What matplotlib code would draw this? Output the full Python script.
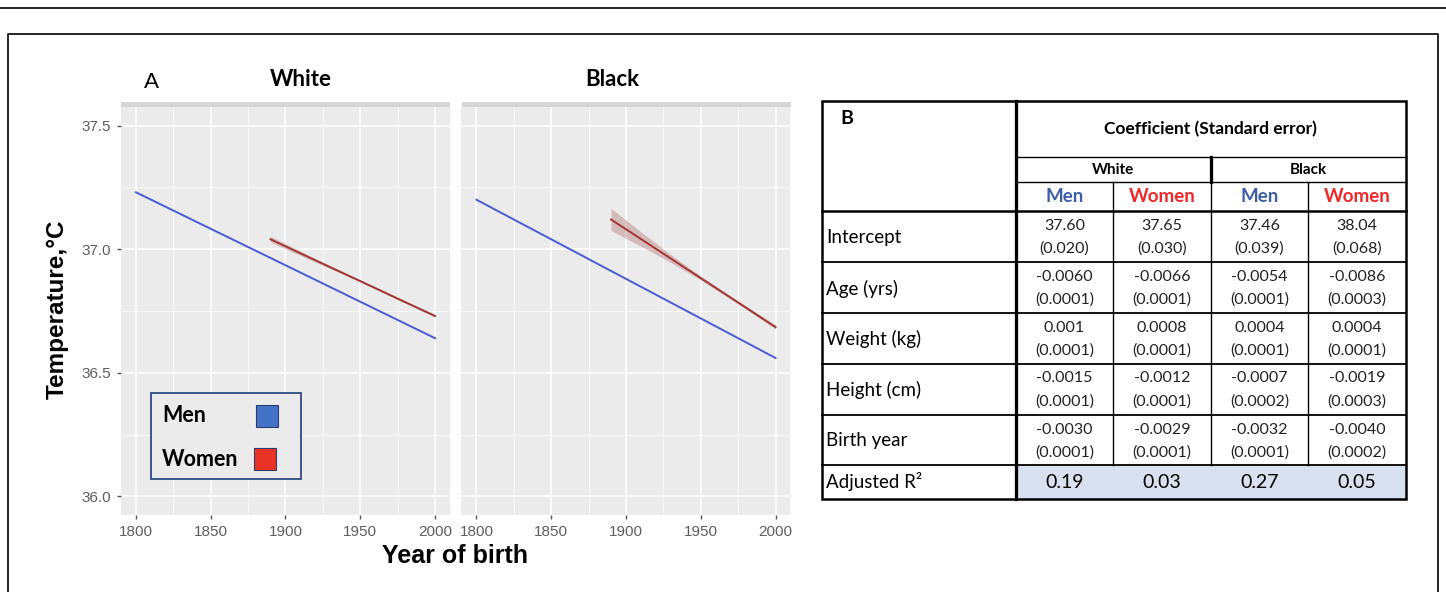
import matplotlib
matplotlib.use("Agg")
import matplotlib.pyplot as plt
from matplotlib.patches import Rectangle
from matplotlib.lines import Line2D
from matplotlib.ticker import MultipleLocator, FormatStrFormatter

W, H = 1446, 592

# ---- panel A data (fitted lines) ----
panels = ["White", "Black"]
men_years = {"White": [1800, 2000], "Black": [1800, 2000]}
men_temp = {"White": [37.23, 36.64], "Black": [37.20, 36.56]}
women_years = {"White": [1890, 1920, 1950, 1980, 2000],
               "Black": [1890, 1910, 1930, 1950, 1970, 2000]}
women_temp = {"White": [37.04, 36.955, 36.871, 36.786, 36.73],
              "Black": [37.12, 37.041, 36.962, 36.883, 36.804, 36.685]}
women_halfwidth = {"White": [0.012, 0.007, 0.004, 0.004, 0.005],
                   "Black": [0.045, 0.029, 0.016, 0.008, 0.006, 0.008]}

# ---- panel B table ----
row_labels = ["Intercept", "Age (yrs)", "Weight (kg)", "Height (cm)", "Birth year"]
coef = [["37.60", "37.65", "37.46", "38.04"],
        ["-0.0060", "-0.0066", "-0.0054", "-0.0086"],
        ["0.001", "0.0008", "0.0004", "0.0004"],
        ["-0.0015", "-0.0012", "-0.0007", "-0.0019"],
        ["-0.0030", "-0.0029", "-0.0032", "-0.0040"]]
stderr = [["(0.020)", "(0.030)", "(0.039)", "(0.068)"],
          ["(0.0001)", "(0.0001)", "(0.0001)", "(0.0003)"],
          ["(0.0001)", "(0.0001)", "(0.0001)", "(0.0001)"],
          ["(0.0001)", "(0.0001)", "(0.0002)", "(0.0003)"],
          ["(0.0001)", "(0.0001)", "(0.0001)", "(0.0002)"]]
adj_r2 = ["0.19", "0.03", "0.27", "0.05"]
sex_labels = ["Men", "Women", "Men", "Women"]

men_col = "#4b5bd4"
women_col = "#a33535"
men_key = "#4472c4"
women_key = "#ea3327"
men_txt = "#3e5ea8"
women_txt = "#f0282a"

calibri = ["Lato", "DejaVu Sans"]
arial = ["Liberation Sans", "DejaVu Sans"]

fig = plt.figure(figsize=(W / 100, H / 100), dpi=100)

# overlay canvas in pixel units for frame, titles, legend and table
cv = fig.add_axes([0, 0, 1, 1])
cv.set_xlim(0, W)
cv.set_ylim(H, 0)
cv.axis("off")
cv.set_zorder(10)


def px_axes(x0, y0, x1, y1):
    return fig.add_axes([x0 / W, 1 - y1 / H, (x1 - x0) / W, (y1 - y0) / H])


# frame
cv.add_line(Line2D([0, W], [8, 8], color="black", lw=1.2))
cv.add_line(Line2D([8, 8, 1438, 1438], [H + 5, 34, 34, H + 5], color="black", lw=1.2))

panel_x = {"White": (121, 450), "Black": (461.5, 790.5)}
title_shift = {"White": 15, "Black": -14}
py0, py1 = 107, 515

for name in panels:
    x0, x1 = panel_x[name]
    ax = px_axes(x0, py0, x1, py1)
    ax.set_facecolor("#ebebeb")
    for s in ax.spines.values():
        s.set_visible(False)
    ax.set_xlim(1790, 2010)
    ax.set_ylim(35.925, 37.575)
    ax.xaxis.set_major_locator(MultipleLocator(50))
    ax.xaxis.set_minor_locator(MultipleLocator(25))
    ax.yaxis.set_major_locator(MultipleLocator(0.5))
    ax.yaxis.set_minor_locator(MultipleLocator(0.25))
    ax.yaxis.set_major_formatter(FormatStrFormatter("%.1f"))
    ax.grid(which="major", color="white", lw=1.1)
    ax.grid(which="minor", color="white", lw=0.5)
    ax.set_axisbelow(True)
    ax.tick_params(which="major", length=3, width=1, color="#555555",
                   labelsize=11, labelcolor="#5e5e5e", pad=4)
    ax.tick_params(which="minor", length=0)
    for lab in ax.get_xticklabels() + ax.get_yticklabels():
        lab.set_fontfamily(arial)
    if name == "Black":
        ax.tick_params(axis="y", which="both", left=False, labelleft=False)

    lo = [t - h for t, h in zip(women_temp[name], women_halfwidth[name])]
    hi = [t + h for t, h in zip(women_temp[name], women_halfwidth[name])]
    ax.fill_between(women_years[name], lo, hi, color="#b06a6a", alpha=0.38, lw=0)
    ax.plot(men_years[name], men_temp[name], color=men_col, lw=1.4)
    ax.plot(women_years[name], women_temp[name], color=women_col, lw=1.4)

    # strip band and facet title
    cv.add_patch(Rectangle((x0, 102), x1 - x0, 5, color="#d6d6d6", lw=0))
    cv.text((x0 + x1) / 2 + title_shift[name], 80, name,
            fontsize=16, fontweight="bold", family=calibri, ha="center", va="center")

# legend box drawn by hand: labels left, keys right
cv.add_patch(Rectangle((151, 393), 150, 86, facecolor="#ebebeb",
                       edgecolor="#2e4a82", lw=1.3))
for lab, key, yc, kx in [("Men", men_key, 416, 256), ("Women", women_key, 459, 254)]:
    cv.text(162, yc, lab, fontsize=15.5, fontweight="bold", family=calibri,
            ha="left", va="center")
    cv.add_patch(Rectangle((kx, yc - 11), 22, 22, facecolor=key,
                           edgecolor="#2c3e6e", lw=0.8))

cv.text(144, 82, "A", fontsize=16, family=calibri, ha="left", va="center")
cv.text(57, 309, "Temperature,\u00b0C", fontsize=17.5, fontweight="bold", family=arial,
        rotation=90, ha="center", va="center")
cv.text(455, 556, "Year of birth", fontsize=18, fontweight="bold", family=arial,
        ha="center", va="center")

# ---- table ----
tx0, tx1 = 821.5, 1405.5
tc = 1015.5
col_edges = [tc, 1113.3, 1210.5, 1308.3, tx1]
ty0, ty_coef, ty_race = 101, 157.3, 182
row_edges = [211, 262, 313, 363.5, 414.5, 465, 498.5]
thin, thick = 1.0, 1.8

cv.add_patch(Rectangle((tc, row_edges[5]), tx1 - tc, row_edges[6] - row_edges[5],
                       facecolor="#d9e0f0", lw=0))
cv.add_patch(Rectangle((tx0, ty0), tx1 - tx0, row_edges[6] - ty0, fill=False,
                       edgecolor="black", lw=thick))
cv.add_line(Line2D([tc, tc], [ty0, row_edges[6]], color="black", lw=thick * 1.3))
cv.add_line(Line2D([tc, tx1], [ty_coef, ty_coef], color="black", lw=thin))
cv.add_line(Line2D([tc, tx1], [ty_race, ty_race], color="black", lw=thin))
cv.add_line(Line2D([col_edges[2]] * 2, [ty_coef, ty_race], color="black", lw=thick * 1.3))
cv.add_line(Line2D([col_edges[2]] * 2, [ty_race, row_edges[5]], color="black", lw=thin))
for xe in (col_edges[1], col_edges[3]):
    cv.add_line(Line2D([xe, xe], [ty_race, row_edges[5]], color="black", lw=thin))
for i, ye in enumerate(row_edges[:-1]):
    cv.add_line(Line2D([tx0, tx1], [ye, ye], color="black", lw=thick if i == 0 else thin * 1.3))

cv.text(840, 119, "B", fontsize=14, fontweight="bold", family=calibri, ha="left", va="center")
cv.text((tc + tx1) / 2, 129, "Coefficient (Standard error)", fontsize=12.5,
        fontweight="bold", family=calibri, ha="center", va="center")
cv.text((col_edges[0] + col_edges[2]) / 2, 170, "White", fontsize=11,
        fontweight="bold", family=calibri, ha="center", va="center")
cv.text((col_edges[2] + col_edges[4]) / 2, 170, "Black", fontsize=11,
        fontweight="bold", family=calibri, ha="center", va="center")

centers = [(col_edges[j] + col_edges[j + 1]) / 2 for j in range(4)]
for j, lab in enumerate(sex_labels):
    cv.text(centers[j], 197, lab, fontsize=13.5, fontweight="bold", family=calibri,
            color=men_txt if lab == "Men" else women_txt, ha="center", va="center")

for i, lab in enumerate(row_labels):
    top, bot = row_edges[i], row_edges[i + 1]
    cv.text(826, (top + bot) / 2 + 1, lab, fontsize=13.5, family=calibri,
            ha="left", va="center")
    for j in range(4):
        cv.text(centers[j], top + 15, coef[i][j], fontsize=11.5, family=calibri,
                ha="center", va="center", color="#222222")
        cv.text(centers[j], top + 38, stderr[i][j], fontsize=11.5, family=calibri,
                ha="center", va="center", color="#222222")

cv.text(826, (row_edges[5] + row_edges[6]) / 2, "Adjusted R\u00b2", fontsize=13.5,
        family=calibri, ha="left", va="center")
for j in range(4):
    cv.text(centers[j], (row_edges[5] + row_edges[6]) / 2 + 1, adj_r2[j], fontsize=14,
            family=calibri, ha="center", va="center")

fig.savefig("out.png", dpi=100)
